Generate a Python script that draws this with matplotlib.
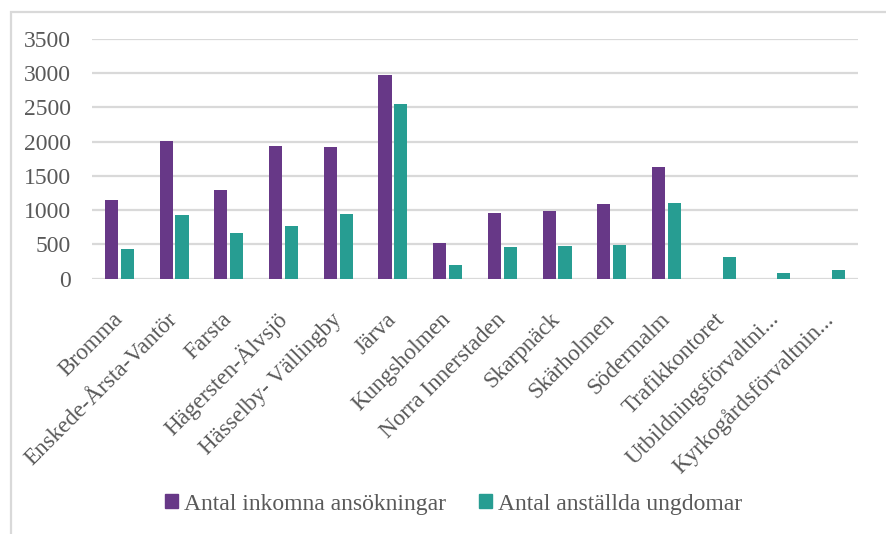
import numpy as np
import matplotlib
matplotlib.use("Agg")
import matplotlib.pyplot as plt
from matplotlib.patches import Rectangle, Patch

plt.rcParams["font.family"] = ["Liberation Serif", "DejaVu Serif"]

omraden = [
    "Bromma", "Enskede-Årsta-Vantör", "Farsta", "Hägersten-Älvsjö",
    "Hässelby- Vällingby", "Järva", "Kungsholmen", "Norra Innerstaden",
    "Skarpnäck", "Skärholmen", "Södermalm", "Trafikkontoret",
    "Utbildningsförvaltni...", "Kyrkogårdsförvaltnin...",
]
ansokningar = [1150, 2010, 1295, 1940, 1925, 2975, 520, 960, 990, 1090, 1630, 0, 0, 0]
anstallda = [435, 930, 665, 770, 945, 2550, 200, 465, 480, 490, 1105, 315, 85, 125]
y_ticks = [0, 500, 1000, 1500, 2000, 2500, 3000, 3500]

LILA = "#673887"
TURKOS = "#279D92"
GRA_TEXT = "#595959"
GRA_LINJE = "#d9d9d9"
SERIF = ["Liberation Serif", "DejaVu Serif"]

fig = plt.figure(figsize=(8.86, 5.34), dpi=100)
ax = fig.add_axes([92 / 886, 255.3 / 534, 766 / 886, 239.7 / 534])

x = np.arange(len(omraden))
bredd = 0.24
ax.bar(x - 0.146, ansokningar, bredd, color=LILA, zorder=3)
ax.bar(x + 0.146, anstallda, bredd, color=TURKOS, zorder=3)

ax.set_xlim(-0.5, len(omraden) - 0.5)
ax.set_ylim(0, 3500)
ax.set_yticks(y_ticks)
ax.set_yticklabels([str(v) for v in y_ticks], fontsize=17, color=GRA_TEXT)
ax.tick_params(axis="y", length=0, pad=15)
ax.yaxis.grid(True, color=GRA_LINJE, linewidth=1.6, zorder=0)
ax.set_axisbelow(True)
for s in ax.spines.values():
    s.set_visible(False)

ax.set_xticks(x)
ax.set_xticklabels(omraden, rotation=45, ha="right", va="center",
                   rotation_mode="anchor", fontsize=16.7, color=GRA_TEXT)
ax.tick_params(axis="x", length=0, pad=27)

# ram runt diagramytan
fig.patches.append(Rectangle((10.5 / 886, -0.1), 1.2, (534 - 12.5) / 534 + 0.1,
                             transform=fig.transFigure, fill=False,
                             edgecolor=GRA_LINJE, linewidth=1.6))

handles = [Patch(color=LILA), Patch(color=TURKOS)]
leg = fig.legend(handles, ["Antal inkomna ansökningar", "Antal anställda ungdomar"],
                 loc="center", bbox_to_anchor=(0.512, 0.056), ncol=2, frameon=False,
                 fontsize=17, handlelength=0.55, handleheight=0.55,
                 handletextpad=0.25, columnspacing=1.4)
for t in leg.get_texts():
    t.set_fontfamily(SERIF)
    t.set_color(GRA_TEXT)

fig.savefig("out.png", dpi=100)
